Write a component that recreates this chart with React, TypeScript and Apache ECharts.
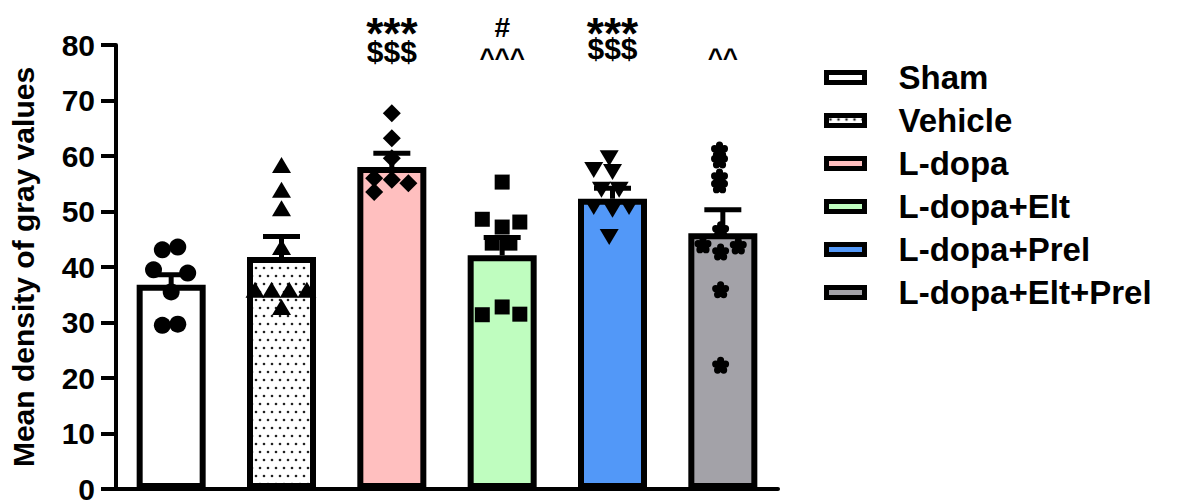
import React, { useEffect, useRef } from 'react';
import * as echarts from 'echarts';

const categories = ['Sham', 'Vehicle', 'L-dopa', 'L-dopa+Elt', 'L-dopa+Prel', 'L-dopa+Elt+Prel'];
const means = [36.8, 41.8, 58.0, 42.1, 52.3, 46.1];
const sems = [1.8, 3.7, 2.5, 3.2, 1.9, 4.2];
const fills = ['#ffffff', 'dots', '#ffbfbf', '#bffdbf', '#5298f8', '#a3a2a8'];

const shamPts = [43.1, 43.6, 39.5, 38.9, 35.5, 29.5, 29.7];
const shamDx = [-0.08, 0.06, -0.16, 0.15, 0, -0.08, 0.06];
const vehiclePts = [58.4, 53.9, 50.6, 43.6, 35.9, 35.9, 35.9, 35.9, 32.8];
const vehicleDx = [0, 0, 0, 0, -0.24, -0.09, 0.07, 0.23, 0];
const ldopaPts = [67.7, 63.2, 59.6, 56.0, 55.7, 55.1, 53.5];
const ldopaDx = [0, 0, 0, -0.16, 0, 0.15, -0.16];
const eltPts = [55.3, 48.6, 48.1, 47.2, 44.3, 44.3, 32.8, 31.4, 31.5];
const eltDx = [0, -0.18, 0.16, 0, -0.09, 0.07, 0, -0.18, 0.16];
const prelPts = [59.6, 57.5, 57.1, 53.9, 53.9, 50.8, 50.3, 50.8, 45.4];
const prelDx = [-0.03, -0.17, 0, -0.1, 0.06, -0.17, 0, 0.15, -0.03];
const eltPrelPts = [61.1, 59.3, 56.2, 54.8, 46.7, 44.0, 42.7, 43.8, 35.9, 22.3];
const eltPrelDx = [-0.03, -0.03, -0.03, -0.03, -0.02, -0.18, -0.02, 0.14, -0.02, -0.02];

const annotCats = [2, 2, 3, 3, 4, 4, 5];
const annotTexts = ['***', '$$$', '#', '^^^', '***', '$$$', '^^'];
const annotY = [82.0, 78.8, 83.2, 77.6, 82.0, 79.4, 77.6];

const FONT = 'Liberation Sans, Arial, sans-serif';

function makeDots() {
  const c = document.createElement('canvas');
  c.width = 16;
  c.height = 16;
  const ctx = c.getContext('2d')!;
  ctx.fillStyle = '#ffffff';
  ctx.fillRect(0, 0, 16, 16);
  ctx.fillStyle = '#222222';
  const pts = [[4, 4], [12, 4], [0, 12], [8, 12], [16, 12]];
  for (const [x, y] of pts) {
    ctx.beginPath();
    ctx.arc(x, y, 1.3, 0, Math.PI * 2);
    ctx.fill();
  }
  return c;
}

function flowerPath() {
  const circle = (cx: number, cy: number, r: number) =>
    `M${cx - r} ${cy}A${r} ${r} 0 1 0 ${cx + r} ${cy}A${r} ${r} 0 1 0 ${cx - r} ${cy}Z`;
  const parts = [circle(10, 10, 5)];
  for (let k = 0; k < 5; k++) {
    const a = -Math.PI / 2 + (k * 2 * Math.PI) / 5;
    parts.push(circle(10 + 5 * Math.cos(a), 10 + 5 * Math.sin(a), 3.4));
  }
  return 'path://' + parts.join('');
}

function annotSize(t: string) {
  if (t[0] === '*') return 44;
  if (t[0] === '$') return 30;
  if (t[0] === '#') return 28;
  return 26;
}

export default function App() {
  const ref = useRef<HTMLDivElement>(null);
  useEffect(() => {
    if (!ref.current) return;
    const chart = echarts.init(ref.current, undefined, { renderer: 'svg' });
    const dotCanvas = makeDots();
    const fillFor = (f: string) =>
      f === 'dots' ? { image: dotCanvas, repeat: 'repeat', imageWidth: 16, imageHeight: 16 } : f;

    const groups = [
      { pts: shamPts, dx: shamDx, symbol: 'circle', size: 17, rot: 0 },
      { pts: vehiclePts, dx: vehicleDx, symbol: 'triangle', size: [19, 16], rot: 0 },
      { pts: ldopaPts, dx: ldopaDx, symbol: 'diamond', size: 18, rot: 0 },
      { pts: eltPts, dx: eltDx, symbol: 'rect', size: 15, rot: 0 },
      { pts: prelPts, dx: prelDx, symbol: 'triangle', size: [19, 16], rot: 180 },
      { pts: eltPrelPts, dx: eltPrelDx, symbol: flowerPath(), size: 17, rot: 0 },
    ];

    const barSeries = categories.map((name, i) => ({
      type: 'bar',
      name,
      xAxisIndex: 0,
      yAxisIndex: 0,
      barWidth: 69,
      barGap: '-100%',
      data: categories.map((_, j) => (j === i ? means[i] : '-')),
      itemStyle: { color: fillFor(fills[i]), borderColor: '#000', borderWidth: 6 },
      z: 2,
    }));

    const errSeries = {
      type: 'custom',
      name: 'sem',
      xAxisIndex: 0,
      yAxisIndex: 0,
      z: 3,
      encode: { x: 0, y: 1 },
      data: categories.map((_, i) => [i, means[i], sems[i]]),
      renderItem: (params: any, api: any) => {
        const x = api.value(0);
        const m = api.value(1);
        const s = api.value(2);
        const base = api.coord([x, m]);
        const top = api.coord([x, m + s]);
        return {
          type: 'group',
          children: [
            { type: 'line', shape: { x1: base[0], y1: base[1], x2: top[0], y2: top[1] }, style: { stroke: '#000', lineWidth: 5 } },
            { type: 'line', shape: { x1: top[0] - 18.5, y1: top[1], x2: top[0] + 18.5, y2: top[1] }, style: { stroke: '#000', lineWidth: 5 } },
          ],
        };
      },
    };

    const scatterSeries = groups.map((g, i) => ({
      type: 'scatter',
      name: 'pts-' + categories[i],
      xAxisIndex: 1,
      yAxisIndex: 0,
      symbol: g.symbol,
      symbolSize: g.size,
      symbolRotate: g.rot,
      itemStyle: { color: '#000', opacity: 1 },
      z: 4,
      data: g.pts.map((v, k) => [i + g.dx[k], v]),
    }));

    const annotSeries = {
      type: 'custom',
      name: 'annot',
      xAxisIndex: 0,
      yAxisIndex: 0,
      clip: false,
      z: 5,
      encode: { x: 0, y: 1 },
      data: annotTexts.map((t, k) => [annotCats[k], annotY[k]]),
      renderItem: (params: any, api: any) => {
        const t = annotTexts[params.dataIndex];
        const pt = api.coord([api.value(0), api.value(1)]);
        return {
          type: 'text',
          x: pt[0],
          y: pt[1],
          style: {
            text: t,
            fontSize: annotSize(t),
            fontFamily: FONT,
            fontWeight: 'bold',
            fill: '#000',
            align: 'center',
            verticalAlign: 'middle',
          },
        };
      },
    };

    chart.setOption({
      animation: false,
      backgroundColor: '#ffffff',
      grid: { left: 110, right: 414, top: 45, bottom: 15, containLabel: false },
      legend: {
        orient: 'vertical',
        left: 824,
        top: 61,
        padding: 0,
        itemWidth: 38,
        itemHeight: 10,
        itemGap: 10,
        icon: 'rect',
        data: categories,
        selectedMode: false,
        itemStyle: { borderColor: '#000', borderWidth: 5 },
        textStyle: {
          fontFamily: FONT,
          fontWeight: 'bold',
          fontSize: 33,
          lineHeight: 32,
          color: '#000',
          padding: [0, 0, 0, 29],
        },
      },
      xAxis: [
        {
          type: 'category',
          data: categories,
          boundaryGap: true,
          axisLine: { show: true, onZero: false, lineStyle: { color: '#000', width: 4 } },
          axisTick: { show: false },
          axisLabel: { show: false },
          splitLine: { show: false },
        },
        {
          type: 'value',
          min: -0.5,
          max: 5.5,
          show: false,
          axisLine: { onZero: false },
          splitLine: { show: false },
        },
      ],
      yAxis: {
        type: 'value',
        min: 0,
        max: 80,
        interval: 10,
        name: 'Mean density of gray values',
        nameLocation: 'middle',
        nameGap: 78,
        nameTextStyle: { fontFamily: FONT, fontWeight: 'bold', fontSize: 30, color: '#000' },
        axisLine: { show: true, onZero: false, lineStyle: { color: '#000', width: 4 } },
        axisTick: { show: true, length: 15, lineStyle: { color: '#000', width: 4 } },
        axisLabel: { fontFamily: FONT, fontWeight: 'bold', fontSize: 30, color: '#000', margin: 21 },
        splitLine: { show: false },
      },
      series: [...barSeries, errSeries, ...scatterSeries, annotSeries],
    });
    return () => chart.dispose();
  }, []);
  return (
    <div
      ref={ref}
      style={{ position: 'absolute', left: 0, top: 0, width: 1192, height: 504, background: '#fff' }}
    />
  );
}
